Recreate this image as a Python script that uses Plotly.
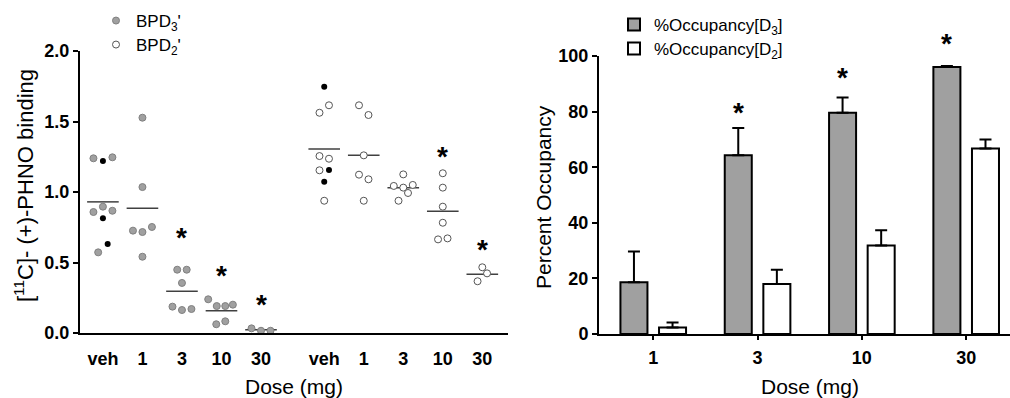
import plotly.graph_objects as go

FONT = "Liberation Sans, Arial, sans-serif"

# ---------------- left panel data ----------------
dose_labels = ["veh", "1", "3", "10", "30"]
group_starts = [1.0, 6.6]          # BPD3' block, BPD2' block

bpd3_pts = [[1.239, 1.22, 1.246, 0.896, 0.858, 0.867, 0.813, 0.631, 0.572],
            [1.527, 1.035, 0.726, 0.716, 0.752, 0.541],
            [0.449, 0.449, 0.355, 0.187, 0.163, 0.170],
            [0.239, 0.191, 0.191, 0.201, 0.062, 0.083],
            [0.033, 0.016, 0.016]]
bpd3_jit = [[-1, 0, 1, 0, -1, 1, 0, 0.5, -0.5],
            [0, 0, -1, 0, 1, 0],
            [-0.5, 0.5, 0, -1, 0, 1],
            [-1.4, -0.5, 0.4, 1.2, -0.55, 0.4],
            [-1, 0, 1]]
bpd3_black = [[1, 6, 7], [], [], [], []]
bpd3_mean = [0.93, 0.884, 0.296, 0.158, 0.023]
bpd3_star = [None, None, 0.70, 0.43, 0.222]

bpd2_pts = [[1.747, 1.615, 1.562, 1.255, 1.236, 1.154, 1.156, 1.073, 0.938],
            [1.615, 1.546, 1.26, 1.123, 1.09, 0.938],
            [1.125, 1.043, 1.031, 1.05, 0.993, 0.938],
            [1.133, 1.031, 0.896, 0.782, 0.664, 0.671],
            [0.466, 0.423, 0.367]]
bpd2_jit = [[0, 0.5, -0.5, -0.5, 0.5, -0.5, 0.5, 0, 0],
            [-0.5, 0.5, 0, -0.5, 0.5, 0],
            [0, -1, 0, 1, 0.5, -0.5],
            [0, 0, 0, 0, -0.5, 0.5],
            [0, 0.5, -0.5]]
bpd2_black = [[0, 6, 7], [], [], [], []]
bpd2_mean = [1.305, 1.26, 1.031, 0.863, 0.416]
bpd2_star = [None, None, None, 1.27, 0.612]

# ---------------- right panel data ----------------
occ_doses = ["1", "3", "10", "30"]
occ_d3 = [18.6, 64.3, 79.6, 96.0]
occ_d3_err = [11.1, 9.8, 5.5, 0.4]
occ_d2 = [2.3, 18.0, 31.8, 66.7]
occ_d2_err = [1.8, 5.1, 5.5, 3.3]
occ_star = [None, 80.8, 93.2, 105.6]
occ_range = [0, 100]

JIT = 0.24
HALF = 0.4
GRAY = "#a0a0a0"
W, H = 1010, 398

fig = go.Figure()

def add_block(start, pts, jit, black, means, fill, line, name, legend_id):
    first = True
    for i, vals in enumerate(pts):
        cx = start + i
        xs_n, ys_n, xs_b, ys_b = [], [], [], []
        for j, v in enumerate(vals):
            x = cx + jit[i][j] * JIT
            if j in black[i]:
                xs_b.append(x); ys_b.append(v)
            else:
                xs_n.append(x); ys_n.append(v)
        fig.add_trace(go.Scatter(
            x=[cx - HALF, cx + HALF], y=[means[i], means[i]], mode="lines",
            line=dict(color="#404040", width=1.5), showlegend=False,
            hoverinfo="skip", xaxis="x", yaxis="y"))
        fig.add_trace(go.Scatter(
            x=xs_n, y=ys_n, mode="markers", name=name, legend=legend_id,
            marker=dict(size=7, color=fill, line=dict(color=line, width=1)),
            showlegend=first, xaxis="x", yaxis="y"))
        first = False
        if xs_b:
            fig.add_trace(go.Scatter(
                x=xs_b, y=ys_b, mode="markers", showlegend=False,
                marker=dict(size=6, color="black"), xaxis="x", yaxis="y"))

add_block(group_starts[0], bpd3_pts, bpd3_jit, bpd3_black, bpd3_mean,
          GRAY, "#808080", "BPD<sub>3</sub>'", "legend")
add_block(group_starts[1], bpd2_pts, bpd2_jit, bpd2_black, bpd2_mean,
          "white", "#555555", "BPD<sub>2</sub>'", "legend2")

star_font = dict(family=FONT, size=28, color="black", weight="bold")
annotations = []
for start, stars in ((group_starts[0], bpd3_star), (group_starts[1], bpd2_star)):
    for i, s in enumerate(stars):
        if s is not None:
            annotations.append(dict(x=start + i, y=s, xref="x", yref="y", text="*",
                                    showarrow=False, yshift=-3, yanchor="middle",
                                    xanchor="center", font=star_font))

# right panel bars
fig.add_trace(go.Bar(
    x=occ_doses, y=occ_d3, name="%Occupancy[D<sub>3</sub>]", legend="legend3",
    marker=dict(color=GRAY, line=dict(color="black", width=2)),
    error_y=dict(type="data", symmetric=False, array=occ_d3_err,
                 arrayminus=[0] * len(occ_d3), color="black", thickness=2, width=6),
    xaxis="x2", yaxis="y2"))
fig.add_trace(go.Bar(
    x=occ_doses, y=occ_d2, name="%Occupancy[D<sub>2</sub>]", legend="legend4",
    marker=dict(color="white", line=dict(color="black", width=2)),
    error_y=dict(type="data", symmetric=False, array=occ_d2_err,
                 arrayminus=[0] * len(occ_d2), color="black", thickness=2, width=6),
    xaxis="x2", yaxis="y2"))

for i, s in enumerate(occ_star):
    if s is not None:
        annotations.append(dict(x=i - 0.185, xref="x2",
                                y=(s - occ_range[0]) / (occ_range[1] - occ_range[0]),
                                yref="y2 domain", text="*", yanchor="middle",
                                xanchor="center",
                                showarrow=False, yshift=-3, font=star_font))

annotations += [
    dict(x=24 / W, y=1 - 186 / H, xref="paper", yref="paper", textangle=-90,
         showarrow=False, xanchor="center", yanchor="middle",
         text="[<sup>11</sup>C]- (+)-PHNO binding",
         font=dict(family=FONT, size=22, color="black")),
    dict(x=294 / W, y=1 - 386 / H, xref="paper", yref="paper", showarrow=False,
         xanchor="center", yanchor="middle", text="Dose (mg)",
         font=dict(family=FONT, size=21, color="black")),
    dict(x=810 / W, y=1 - 386 / H, xref="paper", yref="paper", showarrow=False,
         xanchor="center", yanchor="middle", text="Dose (mg)",
         font=dict(family=FONT, size=21, color="black")),
    dict(x=543 / W, y=1 - 197 / H, xref="paper", yref="paper", textangle=-90,
         showarrow=False, xanchor="center", yanchor="middle", text="Percent Occupancy",
         font=dict(family=FONT, size=21, color="black")),
]

tick_font = dict(family=FONT, size=18, color="black", weight="bold")
left_ticks = [group_starts[g] + i for g in range(2) for i in range(5)]

def leg(xpx, ypx):
    return dict(x=xpx / W, y=1 - ypx / H, xanchor="left", yanchor="top",
                font=dict(family=FONT, size=17, color="black"),
                bgcolor="rgba(0,0,0,0)", itemwidth=30, tracegroupgap=0)

fig.update_layout(
    width=W, height=H, margin=dict(l=0, r=0, t=0, b=0, autoexpand=False),
    paper_bgcolor="white", plot_bgcolor="white",
    font=dict(family=FONT, color="black"),
    barmode="group", bargap=0.26, bargroupgap=0.3,
    annotations=annotations,
    xaxis=dict(domain=[80 / W, 508 / W], range=[0.42, 11.25], showgrid=False,
               zeroline=False, showline=True, linecolor="black", linewidth=2,
               tickvals=left_ticks, ticktext=dose_labels * 2, ticks="",
               tickfont=tick_font, ticklabelstandoff=8, anchor="y", automargin=False),
    yaxis=dict(domain=[(H - 333) / H, (H - 51) / H], range=[0, 2.0], showgrid=False,
               zeroline=False, showline=True, linecolor="black", linewidth=2,
               tickvals=[0, 0.5, 1.0, 1.5, 2.0], tickformat=".1f",
               ticks="outside", ticklen=5, tickwidth=2, tickcolor="black",
               tickfont=tick_font, anchor="x", automargin=False),
    xaxis2=dict(domain=[599 / W, 1.0], range=[-0.52, 3.42], showgrid=False,
                zeroline=False, showline=True, linecolor="black", linewidth=2,
                type="category", ticks="outside", ticklen=4, tickwidth=2,
                tickcolor="black", tickfont=tick_font, ticklabelstandoff=2,
                anchor="y2", automargin=False),
    yaxis2=dict(domain=[(H - 334) / H, (H - 56) / H], range=occ_range, showgrid=False,
                zeroline=False, showline=True, linecolor="black", linewidth=2,
                tickvals=[0, 20, 40, 60, 80, 100],
                ticks="outside", ticklen=5, tickwidth=2, tickcolor="black",
                tickfont=tick_font, anchor="x2", automargin=False),
    legend=leg(96, 3),
    legend2=leg(96, 27),
    legend3=leg(614, 7),
    legend4=leg(614, 31),
)

fig.write_html("out.html", config={"displayModeBar": False},
               post_script="document.body.style.margin='0px';"
                           "document.body.style.overflow='hidden';")
